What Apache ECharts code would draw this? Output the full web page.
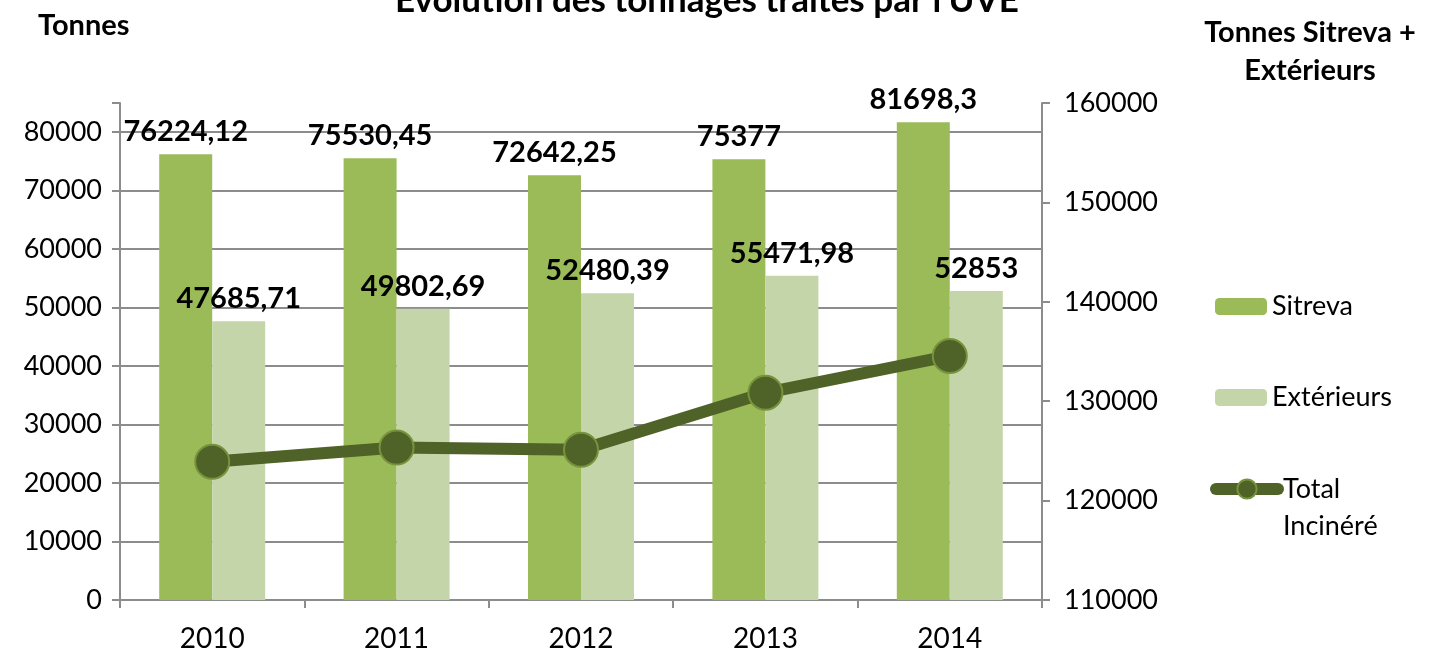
<!DOCTYPE html>
<html>
<head>
    <meta charset="utf-8">
    <title>Evolution des tonnages</title>
    <script src="https://cdn.jsdelivr.net/npm/echarts@6/dist/echarts.min.js"></script>
    <style>
        html, body { margin: 0; padding: 0; background: #fff; }
    </style>
</head>
<body>
    <div id="main" style="width: 1432px;height:655px;"></div>
    <script type="text/javascript">
        // données
        var years = ['2010', '2011', '2012', '2013', '2014'];
        var sitreva = [76224.12, 75530.45, 72642.25, 75377, 81698.3];
        var exterieurs = [47685.71, 49802.69, 52480.39, 55471.98, 52853];
        var totalIncinere = [123909.83, 125333.14, 125122.64, 130848.98, 134551.3];

        var font = 'Lato';
        var grey = '#8c8c8c';

        function frNumber(p) {
            return String(p.value).replace('.', ',');
        }

        var myChart = echarts.init(document.getElementById('main'));

        var option = {
            animation: false,
            textStyle: { fontFamily: font },
            title: [
                {
                    text: "Évolution des tonnages traités par l'UVE",
                    left: 702, textAlign: 'center', top: -22,
                    textStyle: { fontSize: 35, fontWeight: 'bold', color: '#000', fontFamily: font }
                },
                {
                    text: 'Tonnes',
                    left: 33, top: 6,
                    textStyle: { fontSize: 29, fontWeight: 'bold', color: '#000', fontFamily: font }
                },
                {
                    text: 'Tonnes Sitreva +\nExtérieurs',
                    left: 1305, textAlign: 'center', top: 9,
                    textStyle: { fontSize: 29, fontWeight: 'bold', color: '#000', fontFamily: font, lineHeight: 38 }
                }
            ],
            color: ['#9BBB59', '#C4D6A9', '#4F6228'],
            legend: [
                {
                    orient: 'vertical',
                    left: 1210, top: 288,
                    itemWidth: 52, itemHeight: 17, itemGap: 64,
                    data: ['Sitreva', 'Extérieurs'],
                    textStyle: { fontSize: 27, color: '#000', fontFamily: font }
                },
                {
                    orient: 'vertical',
                    left: 1205, top: 442,
                    itemWidth: 62, itemHeight: 24,
                    data: [{
                        name: 'Total Incinéré',
                        lineStyle: { width: 12, cap: 'round' }
                    }],
                    formatter: function () { return '{b| }\n{a|Total}\n{a|Incinéré}'; },
                    textStyle: {
                        fontSize: 27, color: '#000', fontFamily: font,
                        rich: {
                            a: { fontSize: 27, lineHeight: 37, color: '#000', fontFamily: font },
                            b: { fontSize: 10, lineHeight: 37 }
                        }
                    }
                }
            ],
            grid: { left: 120, right: 390, top: 103, bottom: 55 },
            xAxis: {
                type: 'category',
                data: years,
                axisLine: { lineStyle: { color: grey, width: 2 } },
                axisTick: { show: true, length: 8, lineStyle: { color: grey, width: 2 } },
                axisLabel: { fontSize: 28, color: '#000', margin: 25, fontFamily: font }
            },
            yAxis: [
                {
                    type: 'value',
                    min: 0, max: 85000, interval: 10000,
                    axisLine: { show: true, lineStyle: { color: grey, width: 2 } },
                    axisTick: { show: true, length: 8, lineStyle: { color: grey, width: 2 } },
                    axisLabel: {
                        fontSize: 27, color: '#000', margin: 18, fontFamily: font,
                        formatter: function (v) { return v > 80000 ? '' : String(v); }
                    },
                    splitLine: {
                        lineStyle: {
                            width: 2,
                            color: [grey, grey, grey, grey, grey, grey, grey, grey, grey, 'rgba(0,0,0,0)']
                        }
                    }
                },
                {
                    type: 'value',
                    min: 110000, max: 160000, interval: 10000,
                    position: 'right',
                    axisLine: { show: true, lineStyle: { color: grey, width: 2 } },
                    axisTick: { show: true, length: 8, lineStyle: { color: grey, width: 2 } },
                    axisLabel: {
                        fontSize: 27, color: '#000', margin: 22, fontFamily: font,
                        formatter: function (v) { return String(v); }
                    },
                    splitLine: { show: false }
                }
            ],
            series: [
                {
                    name: 'Sitreva',
                    type: 'bar',
                    data: sitreva,
                    barWidth: 53,
                    barGap: '0%',
                    label: {
                        show: true, position: 'top', distance: 8,
                        fontSize: 29, fontWeight: 'bold', color: '#000', fontFamily: font,
                        formatter: frNumber
                    }
                },
                {
                    name: 'Extérieurs',
                    type: 'bar',
                    data: exterieurs,
                    barWidth: 53,
                    barGap: '0%',
                    label: {
                        show: true, position: 'top', distance: 8,
                        fontSize: 29, fontWeight: 'bold', color: '#000', fontFamily: font,
                        formatter: frNumber
                    }
                },
                {
                    name: 'Total Incinéré',
                    type: 'line',
                    yAxisIndex: 1,
                    data: totalIncinere,
                    symbol: 'circle',
                    symbolSize: 34,
                    lineStyle: { color: '#4F6228', width: 12, cap: 'round' },
                    itemStyle: { color: '#4F6228', borderColor: '#77933C', borderWidth: 2 },
                    z: 5
                }
            ]
        };

        myChart.setOption(option);
    </script>
</body>
</html>
